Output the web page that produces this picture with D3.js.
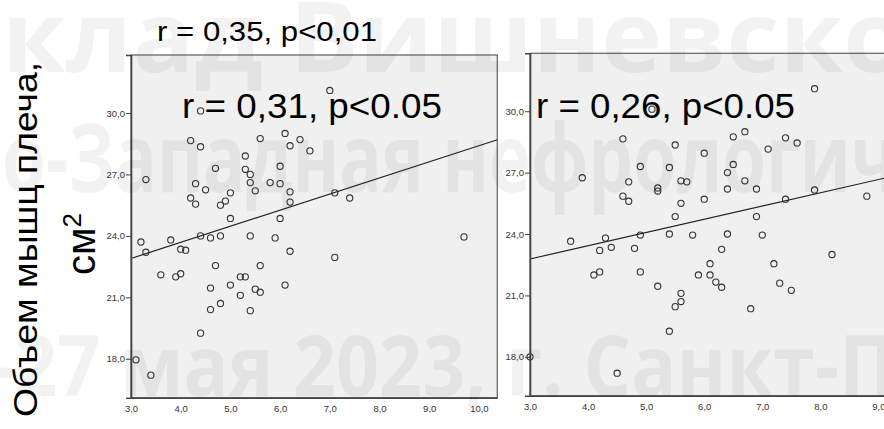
<!DOCTYPE html>
<html>
<head>
<meta charset="utf-8">
<script src="https://cdn.jsdelivr.net/npm/d3@7"></script>
<style>
  body { margin: 0; background: #fff; }
  svg { display: block; font-family: "Liberation Sans", Arial, sans-serif; }
</style>
</head>
<body>
<svg id="chart" width="884" height="429"></svg>
<script>
// values
const xTicksLeft = [3, 4, 5, 6, 7, 8, 9, 10];
const xTicksRight = [3, 4, 5, 6, 7, 8, 9];
const yTicks = [18, 21, 24, 27, 30];
const xDomain = [3, 10.37];
const yDomain = [16.1, 32.83];

const leftX = [7.0, 4.4, 4.2, 4.4, 5.6, 6.1, 6.4, 6.2, 6.6, 5.3, 4.7, 5.3, 5.4, 3.3, 4.3, 5.4,
  5.8, 6.0, 6.0, 4.5, 5.5, 5.0, 6.2, 7.1, 4.2, 7.4, 4.3, 4.9, 4.8, 6.2, 5.0, 6.0,
  3.2, 3.8, 4.4, 4.6, 4.8, 5.4, 5.9, 9.7, 3.3, 4.0, 4.1, 6.2, 7.1, 4.7, 5.6, 3.6,
  4.0, 3.9, 5.2, 5.3, 5.0, 6.1, 4.6, 5.5, 5.6, 5.2, 4.8, 4.6, 5.4, 4.4, 3.1, 3.4];
const leftY = [31.1, 30.1, 28.65, 28.35, 28.75, 29.0, 28.7, 28.4, 28.15, 27.9, 27.3, 27.25, 27.0, 26.75, 26.55, 26.6,
  26.6, 26.55, 27.4, 26.25, 26.2, 26.1, 26.15, 26.1, 25.85, 25.85, 25.55, 25.7, 25.5, 25.65, 24.85, 24.85,
  23.7, 23.8, 24.0, 23.9, 24.0, 24.0, 23.9, 23.95, 23.2, 23.35, 23.3, 23.25, 22.95, 22.55, 22.55, 22.1,
  22.15, 22.0, 22.0, 22.0, 21.6, 21.6, 21.45, 21.4, 21.25, 21.1, 20.7, 20.4, 20.35, 19.25, 17.95, 17.2];

const rightX = [7.9, 5.1, 4.6, 5.5, 6.5, 6.7, 7.4, 7.6, 7.1, 6.0, 4.9, 5.4, 6.5, 6.4, 3.9, 4.7,
  5.6, 5.7, 6.7, 5.2, 5.2, 6.4, 6.9, 7.9, 8.8, 4.6, 4.7, 5.6, 6.0, 7.4, 5.5, 6.9,
  3.7, 4.3, 4.9, 5.4, 5.8, 6.4, 7.0, 4.2, 4.4, 4.8, 6.3, 8.2, 6.1, 7.2, 4.1, 4.2,
  4.9, 5.9, 6.1, 6.2, 7.3, 5.2, 6.3, 5.6, 7.5, 5.6, 5.5, 6.8, 5.4, 3.0, 4.5];
const rightY = [31.1, 30.1, 28.65, 28.35, 28.75, 29.0, 28.7, 28.45, 28.15, 27.95, 27.3, 27.25, 27.4, 27.0, 26.75, 26.55,
  26.6, 26.55, 26.6, 26.25, 26.1, 26.2, 26.2, 26.15, 25.85, 25.85, 25.6, 25.5, 25.7, 25.7, 24.85, 24.85,
  23.65, 23.8, 23.95, 24.0, 23.95, 24.0, 23.95, 23.2, 23.35, 23.3, 23.25, 23.0, 22.55, 22.55, 22.0, 22.15,
  22.15, 22.0, 22.0, 21.65, 21.6, 21.45, 21.4, 21.1, 21.25, 20.7, 20.45, 20.35, 19.25, 18.0, 17.2];

// fit lines: [intercept, slope]
const leftFit = [20.54, 0.786];
const rightFit = [20.84, 0.647];

const svg = d3.select('#chart');
const fmt = d => d3.format('.1f')(d).replace('.', ',');

// watermark goes under the captions but over the panels, so draw it later
function panel(box, xs, ys, fit, xTicks) {
  const x = d3.scaleLinear().domain(xDomain).range([box.x0, box.x1]);
  const y = d3.scaleLinear().domain(yDomain).range([box.y1, box.y0]);
  const g = svg.append('g');

  g.append('rect')
    .attr('x', box.x0).attr('y', box.y0)
    .attr('width', box.x1 - box.x0).attr('height', box.y1 - box.y0)
    .attr('fill', '#f0f0f0')
    .attr('stroke', '#6a6a6a')
    .attr('stroke-width', 1.3);

  const pts = d3.zip(xs, ys);
  g.selectAll('circle.pt').data(pts).enter().append('circle')
    .attr('class', 'pt')
    .attr('cx', d => x(d[0]))
    .attr('cy', d => y(d[1]))
    .attr('r', 3.1)
    .attr('fill', 'none')
    .attr('stroke', '#333')
    .attr('stroke-width', 1.1);

  const line = d3.line().x(d => x(d)).y(d => y(fit[0] + fit[1] * d));
  g.append('path')
    .attr('d', line(xDomain))
    .attr('fill', 'none')
    .attr('stroke', '#222')
    .attr('stroke-width', 1.2);

  const yAxis = d3.axisLeft(y).tickValues(yTicks).tickFormat(fmt).tickSize(5).tickPadding(1);
  const ya = g.append('g').attr('transform', `translate(${box.x0},0)`).call(yAxis);
  ya.select('.domain').attr('stroke', '#444').attr('stroke-width', 1.6);
  ya.selectAll('line').attr('stroke', '#444');

  const xAxis = d3.axisBottom(x).tickValues(xTicks).tickFormat(fmt).tickSize(0).tickPadding(8);
  const xa = g.append('g').attr('transform', `translate(0,${box.y1})`).call(xAxis);
  xa.select('.domain').attr('stroke', '#444').attr('stroke-width', 1.6);

  g.selectAll('.tick text')
    .attr('font-family', '"Liberation Sans", Arial, sans-serif')
    .attr('font-size', 9.5)
    .attr('fill', '#333');
  return g;
}

panel({x0: 131, x1: 497.3, y0: 55, y1: 397.7}, leftX, leftY, leftFit, xTicksLeft);
panel({x0: 530, x1: 958, y0: 53.3, y1: 395.7}, rightX, rightY, rightFit, xTicksRight);

// watermark
const wm = svg.append('g')
  .attr('font-family', '"Open Sans", sans-serif')
  .attr('font-weight', 700)
  .attr('fill', '#000')
  .attr('fill-opacity', 0.05);
wm.append('text').attr('x', 2).attr('y', 72).attr('font-size', 98)
  .attr('textLength', 905).attr('lengthAdjust', 'spacingAndGlyphs')
  .text('клад Вишневско');
wm.append('text').attr('x', 2).attr('y', 192).attr('font-size', 95)
  .attr('textLength', 895).attr('lengthAdjust', 'spacingAndGlyphs')
  .text('о-Западная нефрологич');
wm.append('text').attr('x', -10).attr('y', 396).attr('font-size', 85)
  .attr('textLength', 905).attr('lengthAdjust', 'spacingAndGlyphs')
  .text('-27 мая 2023, г. Санкт-П');

// captions
svg.append('text')
  .attr('x', 157).attr('y', 40.5)
  .attr('font-size', 28)
  .attr('textLength', 220).attr('lengthAdjust', 'spacingAndGlyphs')
  .text('r = 0,35, p<0,01');

svg.append('text')
  .attr('x', 182).attr('y', 118)
  .attr('font-size', 35)
  .attr('textLength', 260).attr('lengthAdjust', 'spacingAndGlyphs')
  .text('r = 0,31, p<0.05');

svg.append('text')
  .attr('x', 536).attr('y', 118.3)
  .attr('font-size', 35)
  .attr('textLength', 259).attr('lengthAdjust', 'spacingAndGlyphs')
  .text('r = 0,26, p<0.05');

// y axis title
svg.append('text')
  .attr('transform', 'translate(37,239.5) rotate(-90)')
  .attr('text-anchor', 'middle')
  .attr('font-size', 33)
  .attr('textLength', 355).attr('lengthAdjust', 'spacingAndGlyphs')
  .text('Объем мышц плеча,');

const unit = svg.append('text')
  .attr('transform', 'translate(95,244) rotate(-90)')
  .attr('text-anchor', 'middle')
  .attr('font-size', 40);
unit.append('tspan').text('см');
unit.append('tspan').attr('font-size', 26).attr('dy', -14).text('2');
</script>
</body>
</html>
